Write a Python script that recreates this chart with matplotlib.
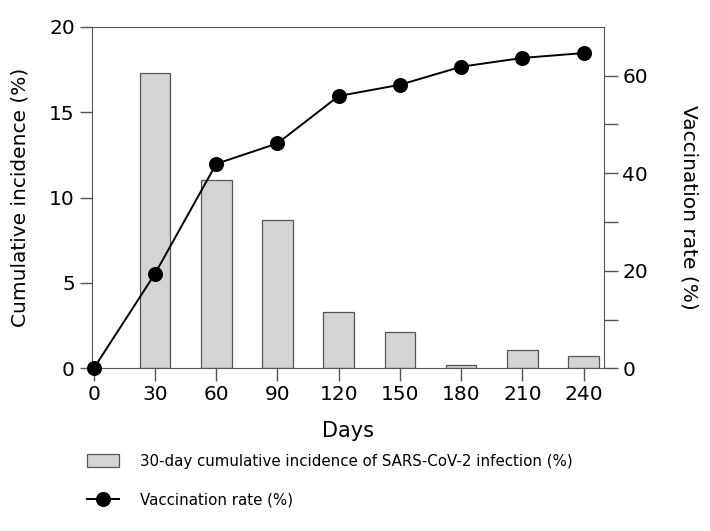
import matplotlib
matplotlib.use("Agg")
import matplotlib.pyplot as plt
from matplotlib.patches import Patch
from matplotlib.lines import Line2D

plt.rcParams['font.family'] = ['DejaVu Sans']

days = [0, 30, 60, 90, 120, 150, 180, 210, 240]
bar_days = [30, 60, 90, 120, 150, 180, 210, 240]
incidence = [17.3, 11.0, 8.7, 3.3, 2.1, 0.2, 1.1, 0.7]
vaccination = [0, 19.4, 41.9, 46.1, 55.8, 58.1, 61.8, 63.6, 64.6]
bar_label = "30-day cumulative incidence of SARS-CoV-2 infection (%)"
line_label = "Vaccination rate (%)"

spine_c = '#555555'
fig = plt.figure(figsize=(7.1, 5.31), dpi=100)
ax = fig.add_axes([0.129, 0.3064, 0.722, 0.6433])
ax.bar(bar_days, incidence, width=15, color='#d4d4d4', edgecolor='#555555', linewidth=0.9, zorder=2)
ax.set_xlim(-1.1, 250.1)
ax.set_ylim(0, 20)
ax.set_xticks(days)
ax.set_yticks([0, 5, 10, 15, 20])
ax.set_xlabel('Days', fontsize=15, labelpad=12)
ax.set_ylabel('Cumulative incidence (%)', fontsize=14.5, va='center')
ax.yaxis.set_label_coords(-0.14, 0.5)
ax.tick_params(axis='both', labelsize=14.5, length=9, width=1, color=spine_c, pad=3)
for s in ['left', 'bottom', 'top']:
    ax.spines[s].set_color(spine_c)
ax.spines['right'].set_visible(False)

ax2 = ax.twinx()
ax2.plot(days, vaccination, color='black', linewidth=1.4, marker='o', markersize=9.8, zorder=3, clip_on=False)
ax2.set_ylim(0, 70)
ax2.set_yticks([0, 20, 40, 60])
ax2.set_yticks([10, 30, 50], minor=True)
ax2.tick_params(axis='y', which='both', labelsize=14.5, length=10, width=1, color=spine_c, pad=3)
ax2.set_ylabel('Vaccination rate (%)', fontsize=14.5, rotation=270, va='center', ha='center')
ax2.yaxis.set_label_coords(1.165, 0.472)
for s in ['left', 'bottom', 'top']:
    ax2.spines[s].set_visible(False)
ax2.spines['right'].set_color(spine_c)

handles = [Patch(facecolor='#d4d4d4', edgecolor='#555555', linewidth=0.9),
           Line2D([0], [0], color='black', linewidth=1.4, marker='o', markersize=9.8)]
fig.legend(handles, [bar_label, line_label], loc='upper left', bbox_to_anchor=(0.104, 0.171),
           frameon=False, fontsize=10.8, handlelength=2.1, handleheight=0.92, handletextpad=1.4,
           labelspacing=1.6)

fig.savefig('out.png', dpi=100)
